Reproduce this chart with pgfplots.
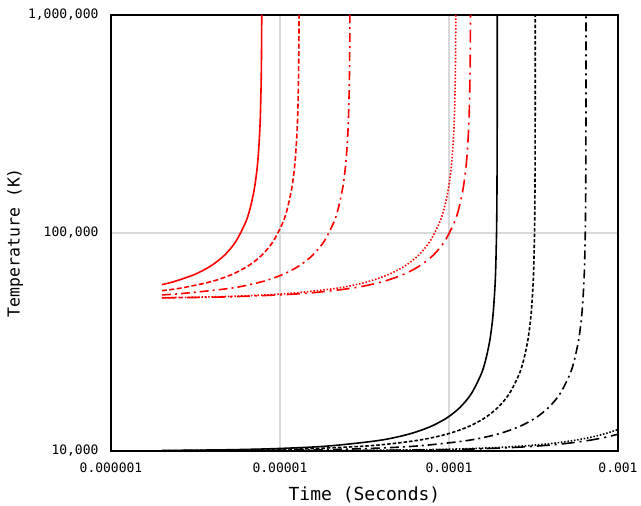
\documentclass[border=0pt]{standalone}
\usepackage{pgfplots}
\pgfplotsset{compat=1.18}
\usepackage{fontspec}
\setmainfont{DejaVu Sans Mono}
\setmonofont{DejaVu Sans Mono}
\definecolor{gridgray}{RGB}{217,217,217}
\begin{document}
\begin{tikzpicture}
\useasboundingbox (-111bp,-55bp) rectangle (530bp,451bp);
\begin{axis}[
  at={(0,0)}, anchor=south west,
  scale only axis,
  width=507bp, height=436bp,
  xmode=log, ymode=log,
  xmin=1e-6, xmax=1e-3, ymin=1e4, ymax=1e6,
  xtick={1e-6,1e-5,1e-4,1e-3},
  xticklabels={0.000001,0.00001,0.0001,0.001},
  ytick={1e4,1e5,1e6},
  yticklabels={{10,000},{100,000},{1,000,000}},
  xminorticks=false, yminorticks=false,
  major tick length=0pt,
  grid=major,
  major grid style={gridgray, line width=1.3bp},
  axis line style={line width=2.2bp, black},
  tick label style={font=\fontsize{13bp}{15bp}\selectfont},
  xticklabel style={anchor=north, yshift=-8bp},
  yticklabel style={anchor=east, xshift=-9bp},
  xlabel={Time (Seconds)},
  ylabel={Temperature (K)},
  x label style={at={(axis description cs:0.5,-0.101)}, anchor=center, font=\fontsize{18bp}{21bp}\selectfont},
  y label style={at={(axis description cs:-0.189,0.478)}, anchor=center, font=\fontsize{16.5bp}{20bp}\selectfont},
  every axis plot/.append style={line width=1.6bp, smooth},
]
% red solid
\addplot[red, solid] coordinates {
(2e-6,57958) (2.346e-6,59761) (3.128e-6,64550) (3.91e-6,70711) (4.692e-6,79057)
(5.474e-6,91287) (6.256e-6,111803) (6.647e-6,129099) (7.038e-6,158114)
(7.2726e-6,188982) (7.429e-6,223607) (7.5854e-6,288675) (7.6636e-6,353553)
(7.7418e-6,500000) (7.7809e-6,707107) (7.80045e-6,1000000)};
% red dashed
\addplot[red, dash pattern=on 5bp off 2.5bp] coordinates {
(2e-6,54356) (2.6e-6,55902) (3.9e-6,59761) (5.2e-6,64550) (6.5e-6,70711)
(7.8e-6,79057) (9.1e-6,91287) (1.04e-5,111803) (1.105e-5,129099) (1.17e-5,158114)
(1.209e-5,188982) (1.235e-5,223607) (1.261e-5,288675) (1.274e-5,353553)
(1.287e-5,500000) (1.2935e-5,707107) (1.29675e-5,1000000)};
% red dash-dot
\addplot[red, dash pattern=on 9bp off 4bp on 2bp off 4bp] coordinates {
(2e-6,52042) (2.6e-6,52705) (5.2e-6,55902) (7.8e-6,59761) (1.04e-5,64550)
(1.3e-5,70711) (1.56e-5,79057) (1.82e-5,91287) (2.08e-5,111803) (2.21e-5,129099)
(2.34e-5,158114) (2.418e-5,188982) (2.47e-5,223607) (2.522e-5,288675)
(2.548e-5,353553) (2.574e-5,500000) (2.587e-5,707107) (2.5935e-5,1000000)};
% red dotted
\addplot[red, dash pattern=on 1.5bp off 1.8bp] coordinates {
(2e-6,50461) (5e-6,51177) (1.1e-5,52705) (2.2e-5,55902) (3.3e-5,59761)
(4.4e-5,64550) (5.5e-5,70711) (6.6e-5,79057) (7.7e-5,91287) (8.8e-5,111803)
(9.35e-5,129099) (9.9e-5,158114) (1.023e-4,188982) (1.045e-4,223607)
(1.067e-4,288675) (1.078e-4,353553) (1.089e-4,500000) (1.0945e-4,707107)
(1.09725e-4,1000000)};
% red long dash-dot
\addplot[red, dash pattern=on 13bp off 5bp on 2bp off 5bp] coordinates {
(2e-6,50377) (5e-6,50957) (1.344e-5,52705) (2.688e-5,55902) (4.032e-5,59761)
(5.376e-5,64550) (6.72e-5,70711) (8.064e-5,79057) (9.408e-5,91287)
(1.0752e-4,111803) (1.1424e-4,129099) (1.2096e-4,158114) (1.24992e-4,188982)
(1.2768e-4,223607) (1.30368e-4,288675) (1.31712e-4,353553) (1.33056e-4,500000)
(1.33728e-4,707107) (1.34064e-4,1000000)};
% black solid
\addplot[black, solid] coordinates {
(2e-6,10052) (5e-6,10132) (1e-5,10270) (1.931e-5,10541) (3.862e-5,11180)
(5.793e-5,11952) (7.724e-5,12910) (9.655e-5,14142) (1.1586e-4,15811)
(1.3517e-4,18257) (1.5448e-4,22361) (1.64135e-4,25820) (1.7379e-4,31623)
(1.79583e-4,37796) (1.83445e-4,44721) (1.87307e-4,57735) (1.89238e-4,70711)
(1.91169e-4,100000) (1.921345e-4,141421) (1.927138e-4,223607)
(1.929069e-4,316228) (1.9300345e-4,447214) (1.9306138e-4,707107)
(1.9308069e-4,1000000)};
% black dashed
\addplot[black, dash pattern=on 3.5bp off 2bp] coordinates {
(2e-6,10031) (1e-5,10158) (3.24e-5,10541) (6.48e-5,11180) (9.72e-5,11952)
(1.296e-4,12910) (1.62e-4,14142) (1.944e-4,15811) (2.268e-4,18257)
(2.592e-4,22361) (2.754e-4,25820) (2.916e-4,31623) (3.0132e-4,37796)
(3.078e-4,44721) (3.1428e-4,57735) (3.1752e-4,70711) (3.2076e-4,100000)
(3.2238e-4,141421) (3.23352e-4,223607) (3.23676e-4,316228)
(3.239352e-4,707107) (3.239676e-4,1000000)};
% black dash-dot
\addplot[black, dash pattern=on 9bp off 4bp on 2bp off 4bp] coordinates {
(2e-6,10015) (1e-5,10078) (3e-5,10240) (6.47e-5,10541) (1.294e-4,11180)
(1.941e-4,11952) (2.588e-4,12910) (3.235e-4,14142) (3.882e-4,15811)
(4.529e-4,18257) (5.176e-4,22361) (5.4995e-4,25820) (5.823e-4,31623)
(6.0171e-4,37796) (6.1465e-4,44721) (6.2759e-4,57735) (6.3406e-4,70711)
(6.4053e-4,100000) (6.43765e-4,141421) (6.45706e-4,223607)
(6.46353e-4,316228) (6.468706e-4,707107) (6.469353e-4,1000000)};
% black dotted
\addplot[black, dash pattern=on 1.5bp off 1.8bp] coordinates {
(2e-6,10004) (1e-5,10018) (3e-5,10055) (1e-4,10188) (2e-4,10386) (3e-4,10597)
(4e-4,10821) (5e-4,11060) (6e-4,11315) (7e-4,11589) (8e-4,11884) (9e-4,12203)
(1e-3,12549)};
% black long dash-dot
\addplot[black, dash pattern=on 13bp off 5bp on 2bp off 5bp] coordinates {
(2e-6,10003) (1e-5,10015) (3e-5,10045) (1e-4,10153) (2e-4,10313) (3e-4,10480)
(4e-4,10656) (5e-4,10842) (6e-4,11037) (7e-4,11243) (8e-4,11462) (9e-4,11693)
(1e-3,11940)};
\end{axis}
\end{tikzpicture}
\end{document}
